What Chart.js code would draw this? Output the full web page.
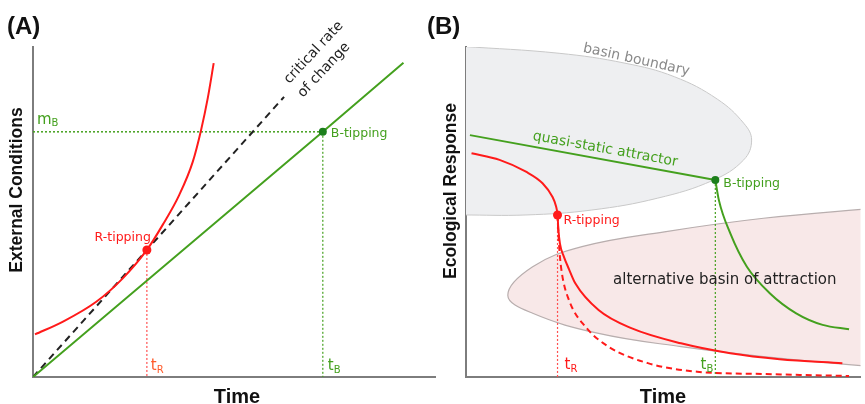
<!DOCTYPE html>
<html>
<head>
<meta charset="utf-8">
<script src="https://cdn.jsdelivr.net/npm/chart.js@4.4.0/dist/chart.umd.min.js"></script>
<style>
  body { margin: 0; background: #fff; }
  #wrap { position: relative; width: 865px; height: 404px; overflow: hidden; }
  canvas { position: absolute; top: 0; }
  #panelA { left: 0; }
  #panelB { left: 420px; }
</style>
</head>
<body>
<div id="wrap">
  <canvas id="panelA" width="440" height="404"></canvas>
  <canvas id="panelB" width="445" height="404"></canvas>
</div>
<script>
// ---- panel A : external conditions over time ----
const linearA_t = [0, 73.3, 93.7];
const linearA_m = [0, 74.3, 95.2];
const fastA_t = [0.5, 7.6, 16.0, 22.7, 28.8, 32.8, 37.0, 40.4, 42.5, 44.2, 45.7];
const fastA_m = [12.9, 16.8, 22.8, 29.9, 38.5, 46.1, 55.2, 65.2, 74.8, 84.5, 95.1];
const criticalA_t = [0, 63.5];
const criticalA_m = [0, 84.9];
const rTipA = [28.8, 38.5];
const bTipA = [73.3, 74.3];

// ---- panel B : ecological response over time ----
const attractorB_t = [1.0, 63.2];
const attractorB_y = [73.3, 59.7];
const bTrackB_t = [63.2, 64.1, 67.0, 71.2, 77.0, 83.7, 90.4, 97.1];
const bTrackB_y = [59.7, 53.6, 43.5, 33.4, 25.4, 19.3, 15.8, 14.5];
const rTrackB_t = [1.4, 8.5, 15.2, 19.4, 21.9, 22.8, 23.2, 23.4, 23.8, 24.8, 26.1, 27.7, 33.6, 41.9, 54.5, 67.0, 79.5, 95.4];
const rTrackB_y = [67.8, 65.8, 62.2, 58.7, 54.6, 51.8, 49.1, 45.0, 40.5, 36.5, 32.7, 28.4, 20.3, 14.8, 10.2, 7.2, 5.4, 4.2];
const rFastB_t = [23.2, 23.4, 23.7, 24.3, 26.1, 30.3, 36.1, 46.1, 58.6, 75.4, 97.1];
const rFastB_y = [49.1, 44.0, 38.0, 31.5, 23.3, 15.2, 9.2, 4.2, 1.6, 0.9, 0.3];
const rTipB = [23.2, 49.1];
const bTipB = [63.2, 59.7];
// basin outlines
const basinB_t = [-1, 23.6, 40.3, 52.8, 63.7, 70.4, 72.4, 70.4, 62.6, 48.6, 31.9, 15.2, -1];
const basinB_y = [100.2, 98.1, 95.1, 91.0, 84.2, 76.9, 71.8, 65.8, 59.6, 54.2, 50.6, 49.1, 49.1];
const altB_t = [104, 75.4, 50.3, 29.4, 16.9, 10.6, 16.9, 33.6, 54.5, 75.4, 104];
const altB_y = [51.2, 48.1, 44.0, 39.5, 33.4, 24.8, 19.3, 13.2, 9.2, 6.2, 3.0];

const RED = '#ff1a1a';
const GREEN = '#44a01e';
const DKGREEN = '#1c7f1c';
const LBL = '12.5px "DejaVu Sans"';
const SUBMAIN = '15px "DejaVu Sans"';
const SUBSM = '10px "DejaVu Sans"';

function pts(ts, ys) {
    return ts.map((t, i) => ({ x: t, y: ys[i] }));
}

function line(ts, ys, color, extra) {
    return Object.assign({
        data: pts(ts, ys),
        showLine: true,
        borderColor: color,
        borderWidth: 2,
        pointRadius: 0,
        fill: false,
        order: 2
    }, extra || {});
}

function dot(p, color, r) {
    return { data: [{ x: p[0], y: p[1] }], pointRadius: r, pointBackgroundColor: color, pointBorderWidth: 0, showLine: false, order: 0 };
}

function axes(xmax) {
    const base = {
        type: 'linear', min: 0, max: xmax,
        grid: { display: false, drawTicks: false },
        ticks: { display: false },
        border: { display: true, color: '#7d7d7d', width: 2 }
    };
    return { x: Object.assign({}, base), y: Object.assign({}, base, { max: 100 }) };
}

// writes the labels; 'at' is in data units, 'px' in canvas pixels
function notes(items) {
    return {
        id: 'notes',
        afterDraw(chart) {
            const ctx = chart.ctx, xs = chart.scales.x, ys = chart.scales.y;
            for (const n of items) {
                let px = n.at ? xs.getPixelForValue(n.at[0]) : n.px[0];
                let py = n.at ? ys.getPixelForValue(n.at[1]) : n.px[1];
                px += n.dx || 0;
                py += n.dy || 0;
                ctx.save();
                ctx.translate(px, py);
                if (n.rotate) ctx.rotate(n.rotate * Math.PI / 180);
                ctx.fillStyle = n.color || '#111';
                ctx.font = n.font;
                ctx.textBaseline = 'middle';
                if (n.sub) {
                    const w1 = ctx.measureText(n.text).width;
                    ctx.font = SUBSM;
                    const w2 = ctx.measureText(n.sub).width;
                    const x0 = n.align === 'right' ? -(w1 + w2) : 0;
                    ctx.textAlign = 'left';
                    ctx.font = n.font;
                    ctx.fillText(n.text, x0, 0);
                    ctx.font = SUBSM;
                    ctx.fillText(n.sub, x0 + w1, 4);
                } else {
                    ctx.textAlign = n.align || 'left';
                    ctx.fillText(n.text, 0, 0);
                }
                ctx.restore();
            }
        }
    };
}

const common = {
    responsive: false,
    animation: false,
    events: [],
    plugins: { legend: { display: false }, tooltip: { enabled: false } }
};

const notesA = [
    { text: '(A)', px: [7, 27], font: 'bold 24px "Liberation Sans"' },
    { text: 'External Conditions', px: [17, 190], rotate: -90, align: 'center', font: 'bold 17.5px "Liberation Sans"' },
    { text: 'Time', px: [237, 397], align: 'center', font: 'bold 20px "Liberation Sans"' },
    { text: 'R-tipping', at: rTipA, dx: 4, dy: -12, align: 'right', font: LBL, color: RED },
    { text: 'B-tipping', at: bTipA, dx: 8, dy: 1.5, font: LBL, color: GREEN },
    { text: 'm', sub: 'B', at: [0, bTipA[1]], dx: 4, dy: -12, font: SUBMAIN, color: GREEN },
    { text: 't', sub: 'R', at: [rTipA[0], 0], dx: 4, dy: -11, font: SUBMAIN, color: '#ff5a2a' },
    { text: 't', sub: 'B', at: [bTipA[0], 0], dx: 5, dy: -11, font: SUBMAIN, color: GREEN },
    { text: 'critical rate', at: [71.0, 98.3], rotate: -47, align: 'center', font: '14px "DejaVu Sans"', color: '#222' },
    { text: 'of change', at: [73.6, 93.0], rotate: -47, align: 'center', font: '14px "DejaVu Sans"', color: '#222' }
];

const notesB = [
    { text: '(B)', px: [7, 27], font: 'bold 24px "Liberation Sans"' },
    { text: 'Ecological Response', px: [31, 191], rotate: -90, align: 'center', font: 'bold 17.5px "Liberation Sans"' },
    { text: 'Time', px: [243, 397], align: 'center', font: 'bold 20px "Liberation Sans"' },
    { text: 'R-tipping', at: rTipB, dx: 6, dy: 6, font: LBL, color: RED },
    { text: 'B-tipping', at: bTipB, dx: 8, dy: 4, font: LBL, color: GREEN },
    { text: 't', sub: 'R', at: [rTipB[0], 0], dx: 7, dy: -12, font: SUBMAIN, color: RED },
    { text: 't', sub: 'B', at: [bTipB[0], 0], dx: -2, dy: -12, align: 'right', font: SUBMAIN, color: GREEN },
    { text: 'quasi-static attractor', at: [35.3, 69.0], rotate: 10.3, align: 'center', font: '14px "DejaVu Sans"', color: GREEN },
    { text: 'basin boundary', at: [43.2, 96.1], rotate: 12.5, align: 'center', font: '14px "DejaVu Sans"', color: '#8a8a8a' },
    { text: 'alternative basin of attraction', at: [65.6, 29.4], align: 'center', font: '15px "DejaVu Sans"', color: '#222' }
];

new Chart(document.getElementById('panelA'), {
    type: 'scatter',
    data: {
        datasets: [
            dot(rTipA, RED, 4.5),
            dot(bTipA, DKGREEN, 4),
            line(fastA_t, fastA_m, RED, { cubicInterpolationMode: 'monotone' }),
            line(linearA_t, linearA_m, GREEN),
            line(criticalA_t, criticalA_m, '#222', { borderDash: [7, 5], order: 3 }),
            line([0, bTipA[0]], [bTipA[1], bTipA[1]], GREEN, { borderWidth: 1.5, borderDash: [2, 2], order: 4 }),
            line([bTipA[0], bTipA[0]], [bTipA[1], 0], GREEN, { borderWidth: 1.2, borderDash: [2, 2], order: 4 }),
            line([rTipA[0], rTipA[0]], [rTipA[1], 0], '#ff5050', { borderWidth: 1.2, borderDash: [2, 2], order: 4 })
        ]
    },
    options: Object.assign({}, common, {
        layout: { padding: { left: 33, right: 3, top: 47, bottom: 27 } },
        scales: axes(101.8)
    }),
    plugins: [notes(notesA)]
});

new Chart(document.getElementById('panelB'), {
    type: 'scatter',
    data: {
        datasets: [
            dot(rTipB, RED, 4.5),
            dot(bTipB, DKGREEN, 4),
            line(attractorB_t, attractorB_y, GREEN),
            line(bTrackB_t, bTrackB_y, GREEN, { cubicInterpolationMode: 'monotone' }),
            line(rTrackB_t, rTrackB_y, RED, { cubicInterpolationMode: 'monotone' }),
            line(rFastB_t, rFastB_y, RED, { cubicInterpolationMode: 'monotone', borderDash: [6, 4], order: 3 }),
            line([bTipB[0], bTipB[0]], [bTipB[1], 0], GREEN, { borderWidth: 1.2, borderDash: [2, 2], order: 4 }),
            line([rTipB[0], rTipB[0]], [rTipB[1], 0], '#ff5050', { borderWidth: 1.2, borderDash: [2, 2], order: 4 }),
            line(basinB_t, basinB_y, '#c9c9c9', { borderWidth: 1, tension: 0.4, fill: 'shape', backgroundColor: '#eeeff1', order: 9 }),
            line(altB_t, altB_y, '#b8aeae', { borderWidth: 1.2, tension: 0.4, fill: 'shape', backgroundColor: '#f8e8e8', order: 8 })
        ]
    },
    options: Object.assign({}, common, {
        layout: { padding: { left: 46, right: 0, top: 47, bottom: 27 } },
        scales: axes(100)
    }),
    plugins: [notes(notesB)]
});
</script>
</body>
</html>
